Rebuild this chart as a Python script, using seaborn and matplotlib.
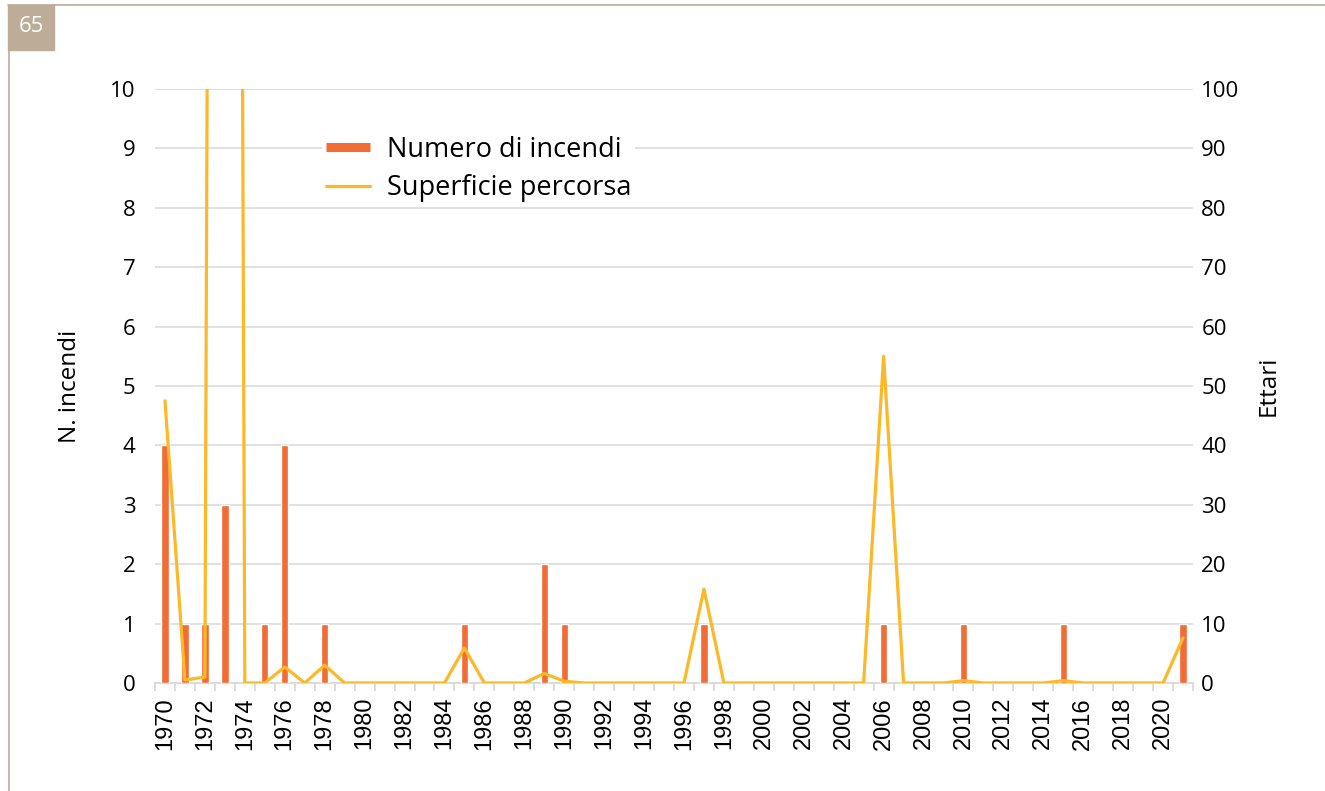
import matplotlib
matplotlib.use("Agg")
import matplotlib.pyplot as plt
from matplotlib.lines import Line2D
from matplotlib.patches import Rectangle
from matplotlib.ticker import FixedLocator
import seaborn as sns
import numpy as np
import pandas as pd

# data
anni = list(range(1970, 2022))
n_incendi = [4, 1, 1, 3, 0, 1, 4, 0, 1, 0,
             0, 0, 0, 0, 0, 1, 0, 0, 0, 2,
             1, 0, 0, 0, 0, 0, 0, 1, 0, 0,
             0, 0, 0, 0, 0, 0, 1, 0, 0, 0,
             1, 0, 0, 0, 0, 1, 0, 0, 0, 0,
             0, 1]
ettari = [47.5, 0.5, 1.0, 900.0, 0.0, 0.0, 2.7, 0.0, 3.0, 0.0,
          0.0, 0.0, 0.0, 0.0, 0.0, 5.9, 0.0, 0.0, 0.0, 1.6,
          0.3, 0.0, 0.0, 0.0, 0.0, 0.0, 0.0, 15.8, 0.0, 0.0,
          0.0, 0.0, 0.0, 0.0, 0.0, 0.0, 55.0, 0.0, 0.0, 0.0,
          0.4, 0.0, 0.0, 0.0, 0.0, 0.4, 0.0, 0.0, 0.0, 0.0,
          0.0, 7.6]

ORANGE = "#F26C36"
YELLOW = "#FDB827"
GRID = "#D9D9D9"
TAN = "#BCAC98"

df = pd.DataFrame({"anno": [str(a) for a in anni], "incendi": n_incendi, "ettari": ettari})

sns.set_style("white")
plt.rcParams['font.family'] = ['Open Sans', 'DejaVu Sans']
plt.rcParams.update({"text.color": "black", "axes.labelcolor": "black",
                     "xtick.color": "black", "ytick.color": "black"})

W, H = 1325, 791
fig = plt.figure(figsize=(W / 100, H / 100), dpi=100)
ax = fig.add_axes([155 / W, 1 - 683 / H, (1193 - 155) / W, (683 - 89) / H])

sns.barplot(data=df, x="anno", y="incendi", color=ORANGE, width=0.37,
            saturation=1, ax=ax, zorder=3)
ax.set_xlim(-0.5, len(anni) - 0.5)
ax.set_ylim(0, 10)
ax.set_yticks(range(0, 11))
ax.yaxis.grid(True, color=GRID, lw=1.1, zorder=0)
ax.set_axisbelow(True)
for s in ["top", "left", "right"]:
    ax.spines[s].set_visible(False)
ax.spines["bottom"].set_color(GRID)
ax.spines["bottom"].set_linewidth(1.3)
ax.spines["bottom"].set_zorder(1)

labels = [a if int(a) % 2 == 0 else "" for a in df["anno"]]
ax.set_xticks(range(len(anni)))
ax.set_xticklabels(labels, rotation=90, fontsize=17, family=["Liberation Sans", "DejaVu Sans"])
ax.xaxis.set_minor_locator(FixedLocator(np.arange(-0.5, len(anni), 1)))
ax.tick_params(axis="x", which="major", length=0, pad=10)
ax.tick_params(axis="x", which="minor", length=6, width=1.3, color=GRID, bottom=True)
ax.tick_params(axis="y", length=0, pad=14, labelsize=16)
ax.set_xlabel("")
ax.set_ylabel("N. incendi", fontsize=17.5, labelpad=20)

ax2 = ax.twinx()
sns.lineplot(x=np.arange(len(anni)), y=ettari, color=YELLOW, lw=2.3, ax=ax2, zorder=4)
ax2.set_ylim(0, 100)
ax2.set_yticks(range(0, 101, 10))
for s in ax2.spines.values():
    s.set_visible(False)
ax2.tick_params(axis="y", length=0, pad=6, labelsize=16)
ax2.set_ylabel("Ettari", fontsize=17.5, labelpad=12)

handles = [Line2D([], [], color=ORANGE, lw=6.5, solid_capstyle="butt"),
           Line2D([], [], color=YELLOW, lw=2.3)]
leg = ax2.legend(handles, ["Numero di incendi", "Superficie percorsa"],
                 loc="upper left", bbox_to_anchor=(308 / W, 1 - 118 / H),
                 bbox_transform=fig.transFigure, fontsize=19.5, frameon=True,
                 facecolor="white", edgecolor="none", framealpha=1,
                 handlelength=1.65, handletextpad=0.6, labelspacing=0.4,
                 borderpad=0.15, fancybox=False)

# page decoration
fig.add_artist(Line2D([8 / W, 1], [1 - 5 / H, 1 - 5 / H], color=TAN, lw=1.2))
fig.add_artist(Line2D([9 / W, 9 / W], [0, 1 - 5 / H], color=TAN, lw=1.2))
fig.add_artist(Rectangle((8 / W, 1 - 50 / H), 46 / W, 45 / H, color=TAN,
                         transform=fig.transFigure))
fig.text(31 / W, 1 - 27 / H, "65", color="white", fontsize=16, ha="center", va="center")

fig.savefig("out.png", dpi=100)
